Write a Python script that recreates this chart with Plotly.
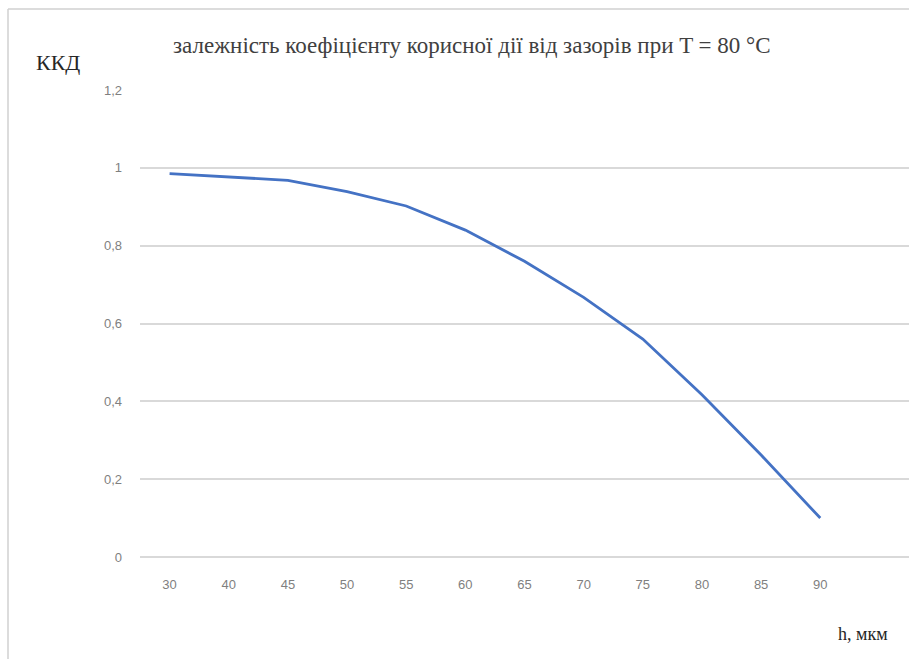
import plotly.graph_objects as go

# Gap values (categories on the x axis) and efficiency values
gaps = ["30", "40", "45", "50", "55", "60", "65", "70", "75", "80", "85", "90"]
efficiency = [0.985, 0.977, 0.968, 0.939, 0.902, 0.84, 0.76, 0.667, 0.56, 0.417, 0.262, 0.1]

y_ticks = [0, 0.2, 0.4, 0.6, 0.8, 1.0, 1.2]
y_tick_text = ["0", "0,2", "0,4", "0,6", "0,8", "1", "1,2"]

title_text = "залежність коефіцієнту корисної дії від зазорів при T = 80 °C"
y_label = "ККД"
x_label = "h, мкм"

W, H = 909, 659
L, R, T, B = 140, 0, 90, 102
pw, ph = W - L - R, H - T - B


def px(x):
    return (x - L) / pw


def py(y):
    return (H - B - y) / ph


fig = go.Figure()
fig.add_trace(go.Scatter(
    x=gaps, y=efficiency, mode="lines",
    line=dict(color="#4472C4", width=2.8),
    showlegend=False,
))

fig.update_layout(
    width=W, height=H,
    margin=dict(l=L, r=R, t=T, b=B),
    paper_bgcolor="white", plot_bgcolor="white",
    xaxis=dict(
        type="category", range=[-0.5, 12.5],
        showgrid=False, zeroline=False, showline=False, ticks="",
        tickfont=dict(family="Liberation Sans", size=13, color="#7f7f7f"),
        ticklabelstandoff=18,
    ),
    yaxis=dict(
        range=[0, 1.2], tickvals=y_ticks, ticktext=y_tick_text,
        showgrid=True, gridcolor="#d9d9d9", gridwidth=1.5,
        zeroline=True, zerolinecolor="#d9d9d9", zerolinewidth=1.5,
        showline=False, ticks="",
        tickfont=dict(family="Liberation Sans", size=13, color="#7f7f7f"),
        ticklabelstandoff=17,
    ),
    annotations=[
        dict(text=title_text, xref="paper", yref="paper", x=px(472), y=py(46),
             xanchor="center", yanchor="middle", showarrow=False,
             font=dict(family="Liberation Serif", size=23, color="#404040")),
        dict(text=y_label, xref="paper", yref="paper", x=px(58), y=py(62),
             xanchor="center", yanchor="middle", showarrow=False,
             font=dict(family="Liberation Serif", size=22, color="#262626")),
        dict(text=x_label, xref="paper", yref="paper", x=px(863), y=py(634),
             xanchor="center", yanchor="middle", showarrow=False,
             font=dict(family="Liberation Serif", size=18, color="#262626")),
    ],
    shapes=[
        # chart frame
        dict(type="line", xref="paper", yref="paper", x0=px(8), x1=px(8),
             y0=py(659), y1=py(9), line=dict(color="#d0d0d0", width=1.5)),
        dict(type="line", xref="paper", yref="paper", x0=px(8), x1=px(909),
             y0=py(9), y1=py(9), line=dict(color="#d0d0d0", width=1.5)),
    ],
)

fig.write_html("out.html")
